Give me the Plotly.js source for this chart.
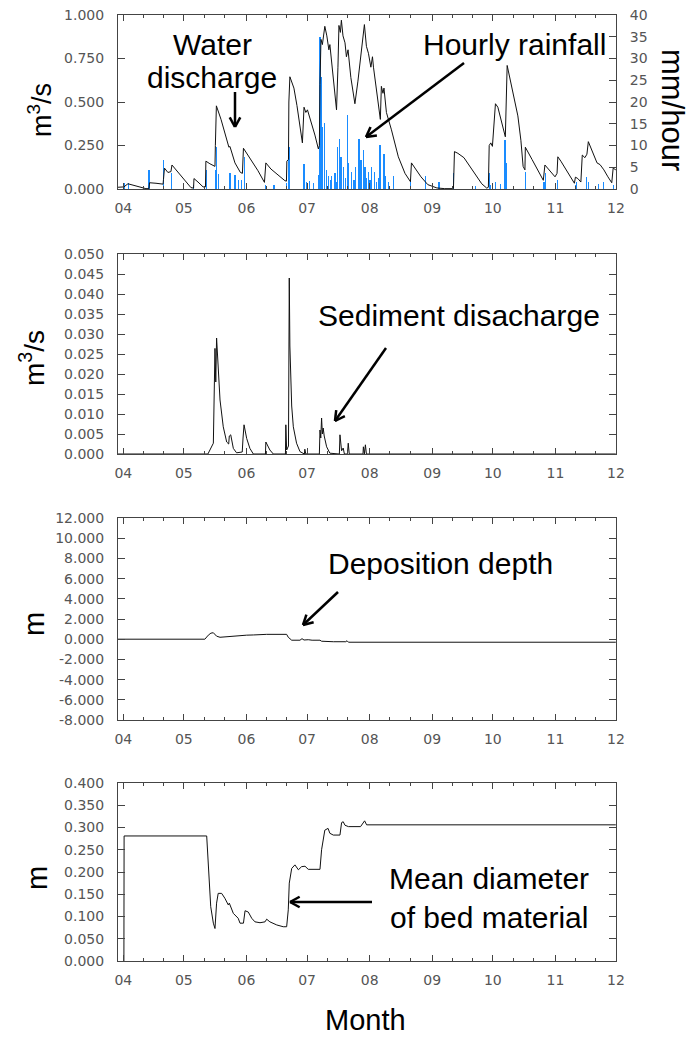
<!DOCTYPE html>
<html><head><meta charset="utf-8">
<script src="https://cdn.plot.ly/plotly-3.0.1.min.js"></script>
<style>html,body{margin:0;padding:0;background:#fff}</style>
</head><body><div id="chart" style="width:689px;height:1039px"></div>
<script>
// ---- data: [days after 1 April, value] ----
const dischargeSeries = [[-2.6,0.010],[0.3,0.012],[2.3,0.030],[3.8,0.025],[7.3,0.012],[11.2,0.002],[12.7,0.002],[13.0,0.036],[16.2,0.033],[19.7,0.028],[19.9,0.055],[20.4,0.120],[22.1,0.095],[23.6,0.100],[24.1,0.138],[27.1,0.095],[30.5,0.045],[33.5,0.008],[34.8,0.005],[35.0,0.060],[37.0,0.040],[39.5,0.012],[40.7,0.012],[40.9,0.160],[42.9,0.145],[45.4,0.130],[45.6,0.250],[46.1,0.478],[48.4,0.400],[50.3,0.320],[51.8,0.250],[52.3,0.240],[52.8,0.245],[55.3,0.150],[58.0,0.095],[59.0,0.090],[59.5,0.234],[63.5,0.165],[66.7,0.105],[69.9,0.038],[70.6,0.150],[73.1,0.115],[76.1,0.085],[80.0,0.048],[80.8,0.045],[81.0,0.160],[81.8,0.170],[82.0,0.500],[82.5,0.645],[84.5,0.580],[86.0,0.480],[87.5,0.370],[88.7,0.265],[89.5,0.470],[90.4,0.440],[91.2,0.455],[92.9,0.390],[94.9,0.310],[96.6,0.230],[97.1,0.250],[97.4,0.600],[97.9,0.860],[98.6,0.830],[99.8,0.935],[100.8,0.880],[101.8,0.800],[102.3,0.830],[103.8,0.650],[105.6,0.455],[106.3,0.700],[106.8,0.940],[107.5,0.900],[108.0,0.970],[108.8,0.880],[109.8,0.840],[110.5,0.760],[111.3,0.800],[112.7,0.640],[114.7,0.490],[116.2,0.620],[117.2,0.720],[117.9,0.800],[119.4,0.945],[120.4,0.820],[121.4,0.780],[122.6,0.700],[123.4,0.760],[123.9,0.700],[125.4,0.570],[126.8,0.430],[127.3,0.400],[127.8,0.590],[128.6,0.550],[129.1,0.580],[130.3,0.440],[132.8,0.340],[136.2,0.185],[139.5,0.090],[142.2,0.042],[142.7,0.150],[144.9,0.110],[147.4,0.070],[150.8,0.025],[155.3,0.006],[159.2,0.002],[163.5,0.002],[164.0,0.215],[165.7,0.205],[168.7,0.180],[171.6,0.130],[174.6,0.075],[177.5,0.030],[180.0,0.005],[180.8,0.010],[181.2,0.250],[182.0,0.265],[182.8,0.245],[184.3,0.490],[185.5,0.470],[187.0,0.400],[189.2,0.300],[190.1,0.710],[191.4,0.640],[193.4,0.530],[195.4,0.420],[196.9,0.280],[198.0,0.130],[198.9,0.110],[199.1,0.240],[202.4,0.170],[205.3,0.105],[208.0,0.050],[208.8,0.138],[210.8,0.110],[213.8,0.070],[214.8,0.090],[215.2,0.185],[216.7,0.160],[219.2,0.110],[222.2,0.055],[223.4,0.033],[223.9,0.068],[225.1,0.060],[226.6,0.040],[227.3,0.195],[228.6,0.180],[229.6,0.200],[230.3,0.272],[232.1,0.220],[234.6,0.150],[236.1,0.140],[238.0,0.110],[240.0,0.070],[241.9,0.036],[242.6,0.120],[243.9,0.110]];

const rainfallSeries = [[0.3,1.3],[2.5,1.4],[12.7,4.4],[20.1,6.7],[24.0,3.6],[34.7,1.0],[41.3,4.4],[45.5,4.4],[46.0,9.7],[47.0,3.5],[52.8,3.6],[55.3,3.2],[56.9,2.1],[58.6,2.1],[60.2,7.4],[70.4,1.0],[74.6,0.9],[80.9,1.4],[81.7,9.7],[82.4,9.7],[89.5,5.7],[90.8,1.7],[92.4,1.8],[94.1,1.3],[96.5,3.2],[97.4,35.0],[98.0,25.8],[98.5,14.3],[99.5,15.1],[100.7,4.4],[101.6,3.0],[102.5,2.0],[103.2,3.0],[104.8,3.6],[105.5,1.5],[106.1,9.7],[106.9,11.6],[107.8,7.4],[108.9,5.0],[110.2,2.5],[111.1,17.0],[111.7,6.0],[113.1,3.8],[114.2,2.0],[115.0,5.1],[116.7,11.4],[117.7,6.7],[118.8,9.0],[119.7,5.1],[120.5,2.5],[121.3,3.8],[122.2,2.0],[123.0,5.0],[124.3,3.8],[125.5,1.5],[126.2,2.5],[127.1,10.1],[129.1,8.0],[129.8,3.0],[131.2,1.5],[134.0,3.0],[142.3,2.0],[149.7,3.0],[156.3,1.7],[163.7,3.7],[174.5,0.7],[181.4,3.6],[181.9,1.0],[184.4,1.5],[186.8,1.2],[189.0,11.3],[189.8,5.9],[199.2,4.0],[208.3,1.5],[209.1,3.6],[214.9,2.0],[224.0,1.0],[224.6,1.5],[229.2,2.8],[230.5,1.5],[235.5,1.2],[238.0,1.5],[242.6,1.0]];

const sedimentSeries = [[-2.6,0],[41.9,0],[42.9,0.001],[44.6,0.0027],[45.4,0.0264],[45.8,0.018],[46.2,0.029],[47.0,0.020],[47.9,0.0135],[49.5,0.0068],[51.2,0.003],[52.2,0.0025],[52.5,0.0045],[53.2,0.0048],[54.5,0.0014],[56.1,0.0003],[58.9,0.0005],[59.3,0.004],[59.8,0.0073],[61.1,0.0039],[62.7,0.0014],[64.4,0],[70.4,0],[70.6,0.003],[72.6,0.001],[74.3,0],[80.3,0],[80.5,0.0073],[80.9,0.001],[81.8,0.002],[82.2,0.044],[82.5,0.027],[83.4,0.012],[84.2,0.0068],[85.8,0.0027],[87.5,0.0006],[89.7,0],[89.9,0.0012],[90.4,0],[97.1,0],[97.4,0.006],[97.8,0.004],[98.2,0.009],[98.6,0.005],[99.0,0.0065],[99.5,0.0045],[100.7,0.0018],[102.3,0.0002],[107.0,0],[107.3,0.0048],[108.1,0.0008],[108.9,0.0015],[109.5,0],[111.0,0],[111.4,0.0027],[111.9,0],[118.7,0],[118.9,0.0018],[119.4,0],[119.9,0.0023],[120.4,0],[243.9,0]];

const depositionSeries = [[-2.6,0],[40.4,0],[42.1,0.40],[43.4,0.60],[44.6,0.64],[46.2,0.30],[47.9,0.19],[50.8,0.25],[54.5,0.30],[57.8,0.33],[61.1,0.40],[64.4,0.42],[71.0,0.48],[80.9,0.48],[81.7,0.19],[83.4,-0.10],[87.5,-0.10],[88.5,0.05],[89.5,-0.08],[91.6,-0.05],[93.5,-0.10],[97.4,-0.10],[98.2,-0.20],[104.0,-0.25],[110.2,-0.25],[110.8,-0.15],[111.5,-0.30],[243.9,-0.30]];

const diameterSeries = [[0.3,0],[0.4,0.281],[41.3,0.281],[42.1,0.212],[43.3,0.122],[44.6,0.085],[45.4,0.073],[46.2,0.130],[47.0,0.152],[48.7,0.152],[50.3,0.141],[52.0,0.126],[52.5,0.130],[54.5,0.107],[56.9,0.096],[57.8,0.085],[59.5,0.085],[60.3,0.113],[61.9,0.110],[63.6,0.096],[65.2,0.088],[67.7,0.086],[70.2,0.088],[71.0,0.094],[72.6,0.088],[76.0,0.081],[79.2,0.077],[80.9,0.077],[81.7,0.115],[82.2,0.175],[83.4,0.208],[85.0,0.216],[86.7,0.205],[88.3,0.212],[90.0,0.213],[91.6,0.206],[97.4,0.206],[98.2,0.250],[99.8,0.294],[101.4,0.298],[102.3,0.287],[104.0,0.283],[107.3,0.283],[108.1,0.311],[108.9,0.313],[109.8,0.305],[111.5,0.302],[117.5,0.302],[119.5,0.315],[120.5,0.306],[243.9,0.306]];

const monthTickDates = ['2003-04-01','2003-05-01','2003-06-01','2003-07-01','2003-08-01','2003-09-01','2003-10-01','2003-11-01','2003-12-01'];
const monthTickLabels = ['04','05','06','07','08','09','10','11','12'];
const minorTickDates = ['2003-04-11','2003-04-21','2003-05-11','2003-05-21','2003-06-11','2003-06-21','2003-07-11','2003-07-21','2003-08-11','2003-08-21','2003-09-11','2003-09-21','2003-10-11','2003-10-21','2003-11-11','2003-11-21'];

const dischargeTicks = [0,0.25,0.5,0.75,1.0];
const dischargeTickLabels = ['0.000','0.250','0.500','0.750','1.000'];
const rainTicks = [0,5,10,15,20,25,30,35,40];
const sedimentTicks = [0,0.005,0.01,0.015,0.02,0.025,0.03,0.035,0.04,0.045,0.05];
const sedimentTickLabels = ['0.000','0.005','0.010','0.015','0.020','0.025','0.030','0.035','0.040','0.045','0.050'];
const depositionTicks = [-8,-6,-4,-2,0,2,4,6,8,10,12];
const depositionTickLabels = ['-8.000','-6.000','-4.000','-2.000','0.000','2.000','4.000','6.000','8.000','10.000','12.000'];
const diameterTicks = [0,0.05,0.1,0.15,0.2,0.25,0.3,0.35,0.4];
const diameterTickLabels = ['0.000','0.050','0.100','0.150','0.200','0.250','0.300','0.350','0.400'];

// ---- helpers ----
const DAY0 = Date.UTC(2003,3,1);
function toDate(d){ return new Date(DAY0 + d*86400000).toISOString().slice(0,19).replace('T',' '); }
const xs = s => s.map(p => toDate(p[0]));
const ys = s => s.map(p => p[1]);

const W = 689, H = 1039;
const px = v => v / W, py = v => 1 - v / H;
const XL = 118, XR = 616;
const xRange = [toDate(-2.62), toDate(244)];
const tickFont = {family:'DejaVu Sans, sans-serif', size:14, color:'#555'};
const frame = '#444';

function xAxis(anchor){
  return {domain:[px(XL),px(XR)], anchor:anchor, type:'date', range:xRange,
    tickmode:'array', tickvals:monthTickDates, ticktext:monthTickLabels,
    ticks:'inside', ticklen:6, tickcolor:frame, showline:true, linecolor:frame, linewidth:1,
    mirror:'ticks', showgrid:false, zeroline:false, tickfont:tickFont, ticklabelstandoff:6,
    minor:{tickmode:'array', tickvals:minorTickDates, ticks:'inside', ticklen:3, tickcolor:frame, showgrid:false}};
}
function yAxis(anchor, top, bottom, range, tv, tt, extra){
  return Object.assign({domain:[py(bottom),py(top)], anchor:anchor, range:range,
    tickmode:'array', tickvals:tv, ticktext:tt,
    ticks:'inside', ticklen:7, tickcolor:frame, showline:true, linecolor:frame, linewidth:1,
    mirror:'ticks', showgrid:false, zeroline:false, tickfont:tickFont, ticklabelstandoff:10}, extra||{});
}

const lineStyle = {color:'#111', width:1};
const traces = [
  {type:'bar', x:xs(rainfallSeries), y:ys(rainfallSeries), xaxis:'x', yaxis:'y',
   width:0.6*86400000, marker:{color:'#1a8cff', line:{width:0}}, hoverinfo:'skip'},
  {type:'scatter', mode:'lines', x:xs(dischargeSeries), y:ys(dischargeSeries), xaxis:'x', yaxis:'y2', line:lineStyle},
  {type:'scatter', mode:'lines', x:xs(sedimentSeries), y:ys(sedimentSeries), xaxis:'x2', yaxis:'y3', line:lineStyle},
  {type:'scatter', mode:'lines', x:xs(depositionSeries), y:ys(depositionSeries), xaxis:'x3', yaxis:'y4', line:lineStyle},
  {type:'scatter', mode:'lines', x:xs(diameterSeries), y:ys(diameterSeries), xaxis:'x4', yaxis:'y5', line:lineStyle}
];

const annFont = {family:'Liberation Sans, Arial, sans-serif', size:30, color:'#000'};
function label(text, x, y, size, angle){
  return {xref:'paper', yref:'paper', x:px(x), y:py(y), text:text, showarrow:false,
    xanchor:'center', yanchor:'middle', textangle:angle||0,
    font:Object.assign({}, annFont, size?{size:size}:{})};
}
// arrow drawn as line shapes: shaft from tail to head, plus two head strokes
function arrow(hx, hy, tx, ty){
  const ang = Math.atan2(ty-hy, tx-hx), L = 11, spread = 0.5;
  const seg = (x0,y0,x1,y1) => ({type:'line', xref:'paper', yref:'paper',
    x0:px(x0), y0:py(y0), x1:px(x1), y1:py(y1), line:{color:'#000', width:2.5}});
  return [
    seg(tx, ty, hx, hy),
    seg(hx, hy, hx + L*Math.cos(ang+spread), hy + L*Math.sin(ang+spread)),
    seg(hx, hy, hx + L*Math.cos(ang-spread), hy + L*Math.sin(ang-spread))
  ];
}

const layout = {
  width:W, height:H, autosize:false, margin:{l:0,r:0,t:0,b:0},
  paper_bgcolor:'#fff', plot_bgcolor:'rgba(0,0,0,0)', showlegend:false, bargap:0,
  xaxis: xAxis('y'),
  yaxis: yAxis('x', 15, 189, [0,40], rainTicks, rainTicks.map(String), {side:'right', mirror:false}),
  yaxis2: yAxis('x', 15, 189, [0,1], dischargeTicks, dischargeTickLabels, {side:'left', overlaying:'y', mirror:false}),
  xaxis2: xAxis('y3'),
  yaxis3: yAxis('x2', 254, 454, [0,0.05], sedimentTicks, sedimentTickLabels),
  xaxis3: xAxis('y4'),
  yaxis4: yAxis('x3', 518, 720, [-8,12], depositionTicks, depositionTickLabels),
  xaxis4: xAxis('y5'),
  yaxis5: yAxis('x4', 783, 961, [0,0.4], diameterTicks, diameterTickLabels),
  shapes: [].concat(
    arrow(235, 127, 235, 92),
    arrow(366, 137, 464, 63),
    arrow(335, 421, 386, 348),
    arrow(303, 625, 338, 592),
    arrow(290, 902, 372, 902)
  ),
  annotations: [
    label('Water', 212, 45), label('discharge', 212, 78),
    label('Hourly rainfall', 514, 45),
    label('Sediment disacharge', 459, 315),
    label('Deposition depth', 440, 563),
    label('Mean diameter', 489, 878), label('of bed material', 489, 917),
    label('m<sup>3</sup>/s', 40, 110, 27, -90),
    label('m<sup>3</sup>/s', 32, 358, 28, -90),
    label('m', 34, 624, 29, -90),
    label('m', 37, 878, 29, -90),
    label('mm/hour', 673, 110, 31, 90),
    label('Month', 365, 1020, 29)
  ]
};

Plotly.newPlot('chart', traces, layout, {staticPlot:true, displayModeBar:false});
</script></body></html>
